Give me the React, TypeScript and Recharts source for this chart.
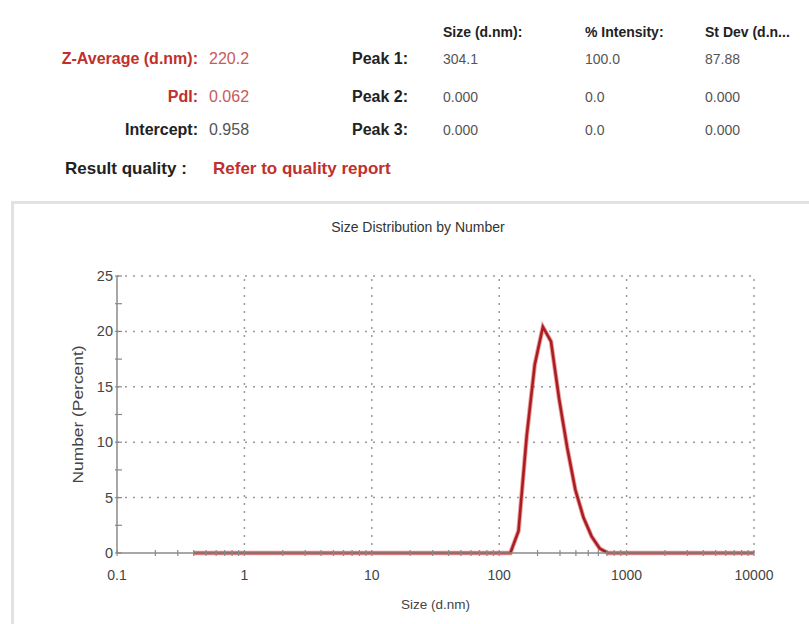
import React from "react";
import { LineChart, Line, XAxis, YAxis, ReferenceLine } from "recharts";

// size distribution by number
const sizes = [0.4, 1, 10, 100, 122.4, 141.8, 164.2, 190.1, 220.2, 255.0, 295.3, 342.0, 396.1, 458.7, 531.2, 615.1, 712.4, 1000, 10000];
const numbers = [0, 0, 0, 0, 0, 2.0, 10.5, 17.0, 20.4, 19.1, 13.9, 9.5, 5.7, 3.2, 1.5, 0.4, 0, 0, 0];

const xMajor = [0.1, 1, 10, 100, 1000, 10000];
const xMinorSteps = [2, 3, 4, 5, 6, 7, 8, 9];
const yMajor = [0, 5, 10, 15, 20, 25];
const yTicks = [0, 2.5, 5, 7.5, 10, 12.5, 15, 17.5, 20, 22.5, 25];

const xTicks = [
  ...xMajor,
  ...xMajor.slice(0, -1).flatMap((d) => xMinorSteps.map((m) => +(d * m).toPrecision(3))),
].sort((a, b) => a - b);

const data = sizes.map((s, i) => ({ size: s, number: numbers[i] }));

const FONT = "'Liberation Sans', Arial, sans-serif";
const RED = "#c0302c";

const XTick = (props: any) => {
  const { x, y, payload } = props;
  const major = xMajor.includes(payload.value);
  return (
    <g>
      <line x1={x} x2={x} y1={y - 3} y2={y + 3} stroke="#8a8a8a" strokeWidth={1.2} />
      {major && (
        <text x={x} y={y + 27} textAnchor="middle" fontSize={14} fill="#444" fontFamily={FONT}>
          {String(payload.value)}
        </text>
      )}
    </g>
  );
};

const YTick = (props: any) => {
  const { x, y, payload } = props;
  const major = yMajor.includes(payload.value);
  return (
    <g>
      <line x1={x - 2} x2={x + 5} y1={y} y2={y} stroke="#8a8a8a" strokeWidth={1.2} />
      {major && (
        <text x={x - 4} y={y + 5} textAnchor="end" fontSize={14.5} fill="#444" fontFamily={FONT}>
          {payload.value}
        </text>
      )}
    </g>
  );
};

const Txt = ({ x, y, children, color = "#222", bold = false, align = "left", size = 16 }: any) => (
  <div
    style={{
      position: "absolute",
      top: y - 9,
      left: align === "right" ? x - 200 : x,
      width: align === "right" ? 200 : undefined,
      textAlign: align,
      whiteSpace: "nowrap",
      fontSize: size,
      lineHeight: "18px",
      fontWeight: bold ? 700 : 400,
      color,
      fontFamily: FONT,
    }}
  >
    {children}
  </div>
);

export default function App() {
  return (
    <div
      style={{
        position: "absolute",
        left: 0,
        top: 0,
        width: 809,
        height: 624,
        overflow: "hidden",
        background: "#fff",
      }}
    >
      {/* result summary */}
      <Txt x={443} y={32} bold size={14}>Size (d.nm):</Txt>
      <Txt x={585} y={32} bold size={14}>% Intensity:</Txt>
      <Txt x={705} y={32} bold size={14}>St Dev (d.n...</Txt>

      <Txt x={198} y={59} bold align="right" color={RED}>Z-Average (d.nm):</Txt>
      <Txt x={209} y={59} color="#c85a5a">220.2</Txt>
      <Txt x={408} y={59} bold align="right">Peak 1:</Txt>
      <Txt x={443} y={59} color="#555" size={14}>304.1</Txt>
      <Txt x={585} y={59} color="#555" size={14}>100.0</Txt>
      <Txt x={705} y={59} color="#555" size={14}>87.88</Txt>

      <Txt x={198} y={97} bold align="right" color={RED}>PdI:</Txt>
      <Txt x={209} y={97} color="#c85a5a">0.062</Txt>
      <Txt x={408} y={97} bold align="right">Peak 2:</Txt>
      <Txt x={443} y={97} color="#555" size={14}>0.000</Txt>
      <Txt x={585} y={97} color="#555" size={14}>0.0</Txt>
      <Txt x={705} y={97} color="#555" size={14}>0.000</Txt>

      <Txt x={198} y={130} bold align="right">Intercept:</Txt>
      <Txt x={209} y={130} color="#555">0.958</Txt>
      <Txt x={408} y={130} bold align="right">Peak 3:</Txt>
      <Txt x={443} y={130} color="#555" size={14}>0.000</Txt>
      <Txt x={585} y={130} color="#555" size={14}>0.0</Txt>
      <Txt x={705} y={130} color="#555" size={14}>0.000</Txt>

      <Txt x={65} y={169} bold size={17}>Result quality :</Txt>
      <Txt x={213} y={169} bold size={17} color={RED}>Refer to quality report</Txt>

      {/* chart panel */}
      <div
        style={{
          position: "absolute",
          left: 11,
          top: 201,
          width: 830,
          height: 460,
          border: "3px solid #e2e2e2",
        }}
      />
      <Txt x={268} y={227} size={14} color="#333">
        <div style={{ width: 300, textAlign: "center" }}>Size Distribution by Number</div>
      </Txt>

      <div style={{ position: "absolute", left: 0, top: 0 }}>
        <LineChart width={809} height={624} data={data} margin={{ top: 276, right: 55, bottom: 0, left: 0 }}>
          {yMajor.slice(1).map((v) => (
            <ReferenceLine key={`h${v}`} y={v} stroke="#9a9a9a" strokeWidth={1.5} strokeDasharray="2 6" />
          ))}
          {xMajor.slice(1).map((v) => (
            <ReferenceLine key={`v${v}`} x={v} stroke="#9a9a9a" strokeWidth={1.5} strokeDasharray="2 6" />
          ))}
          <XAxis
            dataKey="size"
            type="number"
            scale="log"
            domain={[0.1, 10000]}
            ticks={xTicks}
            interval={0}
            height={71}
            tickSize={0}
            tickMargin={0}
            tickLine={false}
            tick={<XTick />}
            axisLine={{ stroke: "#8a8a8a", strokeWidth: 1.5 }}
            allowDataOverflow
            label={{
              value: "Size (d.nm)",
              position: "insideBottom",
              offset: 15,
              fontSize: 13.5,
              fill: "#444",
              fontFamily: FONT,
            }}
          />
          <YAxis
            type="number"
            domain={[0, 25]}
            ticks={yTicks}
            interval={0}
            width={117}
            tickSize={0}
            tickMargin={0}
            tickLine={false}
            tick={<YTick />}
            axisLine={{ stroke: "#8a8a8a", strokeWidth: 1.5 }}
            label={({ viewBox }: any) => {
              const cy = viewBox.y + viewBox.height / 2;
              return (
                <text
                  x={83}
                  y={cy}
                  transform={`rotate(-90, 83, ${cy})`}
                  textAnchor="middle"
                  fontSize={14}
                  textLength={138}
                  lengthAdjust="spacingAndGlyphs"
                  fill="#444"
                  fontFamily={FONT}
                >
                  Number (Percent)
                </text>
              );
            }}
          />
          <Line
            type="linear"
            dataKey="number"
            stroke="#e04848"
            strokeWidth={4.5}
            strokeOpacity={0.55}
            dot={false}
            isAnimationActive={false}
          />
          <Line
            type="linear"
            dataKey="number"
            stroke="#a81f22"
            strokeWidth={2.6}
            dot={false}
            isAnimationActive={false}
          />
        </LineChart>
      </div>
    </div>
  );
}
